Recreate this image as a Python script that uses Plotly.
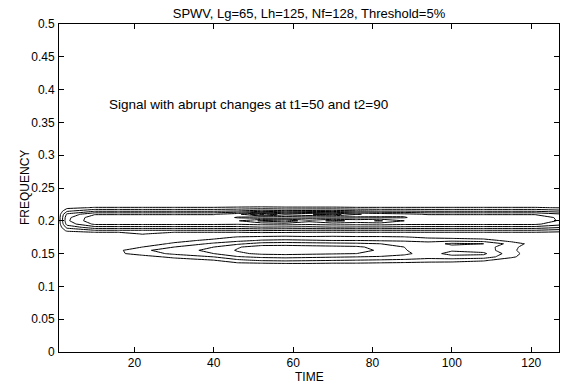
import plotly.graph_objects as go

# Time samples (columns) and frequency bins (rows) of the SPWV magnitude grid
time_pts = [1, 3, 10, 16, 22, 30, 40, 46, 52, 58, 64, 70, 76, 82, 88, 94, 100, 108, 115, 121, 127]
freq_pts = [0.125, 0.13, 0.135, 0.14, 0.145, 0.15, 0.155, 0.16, 0.165, 0.17, 0.175,
            0.18, 0.185, 0.19, 0.195, 0.2, 0.205, 0.21, 0.215, 0.22, 0.225, 0.23]

# Estimated magnitude per frequency row (values over time_pts)
r0125 = [0]*21
r0130 = [0, 0, 0, 0, 0, 0, 0, 0.1, 0.2, 0.2, 0.2, 0.2, 0.2, 0.2, 0.1, 0.1, 0.1, 0, 0, 0, 0]
r0135 = [0, 0, 0, 0, 0, 0, 0.3, 0.8, 0.9, 1.0, 1.0, 0.9, 0.9, 0.8, 0.7, 0.6, 0.6, 0.4, 0, 0, 0]
r0140 = [0, 0, 0, 0, 0.1, 0.4, 1.0, 1.8, 2.2, 2.3, 2.2, 2.1, 2.0, 1.9, 1.8, 1.6, 1.5, 1.2, 0.4, 0, 0]
r0145 = [0, 0, 0, 0.3, 0.5, 1.3, 2.0, 2.9, 3.2, 3.3, 3.2, 3.1, 3.0, 2.9, 2.7, 2.4, 2.7, 2.6, 1.2, 0.2, 0]
r0150 = [0, 0, 0, 0.8, 1.5, 2.2, 3.0, 3.8, 4.2, 4.3, 4.2, 4.1, 4.0, 3.6, 3.2, 2.6, 3.3, 3.2, 1.4, 0.3, 0]
r0155 = [0, 0, 0, 0.8, 1.8, 2.5, 3.3, 4.1, 4.6, 4.7, 4.7, 4.6, 4.5, 3.8, 3.1, 2.3, 2.9, 2.6, 1.2, 0.3, 0]
r0160 = [0, 0, 0, 0.4, 1.0, 2.0, 3.0, 3.9, 4.5, 4.5, 4.4, 4.3, 4.2, 3.6, 3.0, 2.2, 2.7, 2.5, 1.3, 0.3, 0]
r0165 = [0, 0, 0, 0, 0.4, 1.2, 2.2, 2.8, 3.4, 3.5, 3.4, 3.3, 3.2, 3.0, 2.8, 2.5, 3.2, 3.0, 1.6, 0.5, 0]
r0170 = [0, 0, 0, 0, 0.1, 0.6, 1.3, 1.7, 2.1, 2.2, 2.1, 2.0, 2.0, 1.9, 1.8, 1.6, 1.7, 1.5, 0.6, 0.1, 0]
r0175 = [0, 0, 0, 0, 0, 0.2, 0.6, 1.1, 1.2, 1.3, 1.2, 1.3, 1.2, 1.2, 1.1, 0.8, 0.6, 0.4, 0.1, 0, 0]
r0180 = [0.02, 0.13, 0.2, 0.2, 1.1, 0.2, 0.2, 0.2, 0.3, 0.3, 0.2, 0.2, 0.2, 0.2, 0.2, 0.2, 0.2, 0.2, 0.2, 0.2, 0.17]
r0185 = [0.18, 1.2, 1.8, 1.8, 1.8, 1.8, 1.8, 1.8, 2.0, 1.9, 1.8, 1.8, 1.8, 1.8, 1.8, 1.8, 1.8, 1.8, 1.8, 1.8, 1.5]
r0190 = [0.36, 2.3, 3.6, 3.6, 3.6, 3.6, 3.6, 3.6, 3.9, 3.8, 3.7, 3.9, 3.8, 3.8, 3.7, 3.6, 3.6, 3.6, 3.6, 3.6, 3.1]
r0195 = [0.52, 3.4, 5.2, 5.2, 5.2, 5.2, 5.2, 5.1, 5.3, 5.4, 5.2, 5.4, 5.3, 5.4, 5.2, 5.2, 5.2, 5.2, 5.2, 5.2, 4.4]
r0200 = [0.58, 3.8, 5.8, 5.8, 5.8, 5.8, 5.8, 5.9, 7.2, 7.8, 6.3, 7.3, 6.7, 7.1, 6.0, 5.8, 5.8, 5.8, 5.8, 5.8, 4.9]
r0205 = [0.57, 3.7, 5.7, 5.7, 5.7, 5.7, 5.7, 4.9, 4.3, 4.4, 4.6, 4.4, 4.7, 4.8, 4.9, 5.7, 5.7, 5.7, 5.7, 5.7, 4.8]
r0210 = [0.49, 3.2, 4.9, 4.9, 4.9, 4.9, 4.9, 5.6, 8.2, 6.4, 6.9, 7.5, 6.1, 5.6, 5.3, 4.9, 4.9, 4.9, 4.9, 4.9, 4.2]
r0215 = [0.28, 1.8, 2.8, 2.8, 2.8, 2.8, 2.8, 3.0, 3.5, 3.2, 3.3, 3.4, 3.1, 2.9, 2.9, 2.8, 2.8, 2.8, 2.8, 2.8, 2.4]
r0220 = [0.11, 0.72, 1.1, 1.1, 1.1, 1.1, 1.1, 1.2, 1.3, 1.2, 1.2, 1.2, 1.1, 1.1, 1.1, 1.1, 1.1, 1.1, 1.1, 1.1, 0.94]
r0225 = [0.01, 0.07, 0.1, 0.1, 0.1, 0.1, 0.1, 0.1, 0.1, 0.1, 0.1, 0.1, 0.1, 0.1, 0.1, 0.1, 0.1, 0.1, 0.1, 0.1, 0.08]
r0230 = [0]*21

z_rows = [r0125, r0130, r0135, r0140, r0145, r0150, r0155, r0160, r0165, r0170, r0175,
          r0180, r0185, r0190, r0195, r0200, r0205, r0210, r0215, r0220, r0225, r0230]

x_ticks = [20, 40, 60, 80, 100, 120]
y_ticks = [0, 0.05, 0.1, 0.15, 0.2, 0.25, 0.3, 0.35, 0.4, 0.45, 0.5]
y_tick_text = ["0", "0.05", "0.1", "0.15", "0.2", "0.25", "0.3", "0.35", "0.4", "0.45", "0.5"]

title_text = "SPWV, Lg=65, Lh=125, Nf=128, Threshold=5%"
note_text = "Signal with abrupt changes at t1=50 and t2=90"

FONT = "Liberation Sans, Arial, Helvetica, sans-serif"

fig = go.Figure(go.Contour(
    x=time_pts, y=freq_pts, z=z_rows,
    contours=dict(coloring="lines", start=1, end=8, size=1),
    line=dict(width=1, smoothing=0),
    colorscale=[[0, "black"], [1, "black"]],
    showscale=False, hoverinfo="skip",
))

axis_common = dict(showline=True, linecolor="black", linewidth=1, mirror="allticks",
                   ticks="inside", ticklen=5, tickcolor="black", showgrid=False,
                   zeroline=False, tickfont=dict(family=FONT, size=12, color="black"))

fig.update_xaxes(range=[1, 127], tickvals=x_ticks, ticklabelstandoff=0, **axis_common)
fig.update_yaxes(range=[0, 0.5], tickvals=y_ticks, ticktext=y_tick_text, ticklabelstandoff=1, **axis_common)

fig.add_annotation(x=(25 - 59) / 500, xref="paper", y=0.5, yref="paper", text="FREQUENCY",
                   textangle=-90, showarrow=False, xanchor="center", yanchor="middle",
                   font=dict(family=FONT, size=12, color="black"))

fig.add_annotation(x=0.5, xref="paper", y=-(377 - 352) / 328, yref="paper", text="TIME",
                   showarrow=False, xanchor="center", yanchor="middle",
                   font=dict(family=FONT, size=12, color="black"))

fig.add_annotation(x=13, y=0.378, text=note_text, showarrow=False, xanchor="left", yanchor="middle",
                   font=dict(family=FONT, size=13.5, color="black"))

fig.update_layout(
    width=566, height=385,
    margin=dict(l=59, r=7, t=24, b=33),
    paper_bgcolor="white", plot_bgcolor="white",
    title=dict(text=title_text, x=0.5, xref="paper", y=1 - 13/385, yref="container",
               xanchor="center", yanchor="middle", font=dict(family=FONT, size=13, color="black")),
    showlegend=False,
)

fig.write_html("out.html")
